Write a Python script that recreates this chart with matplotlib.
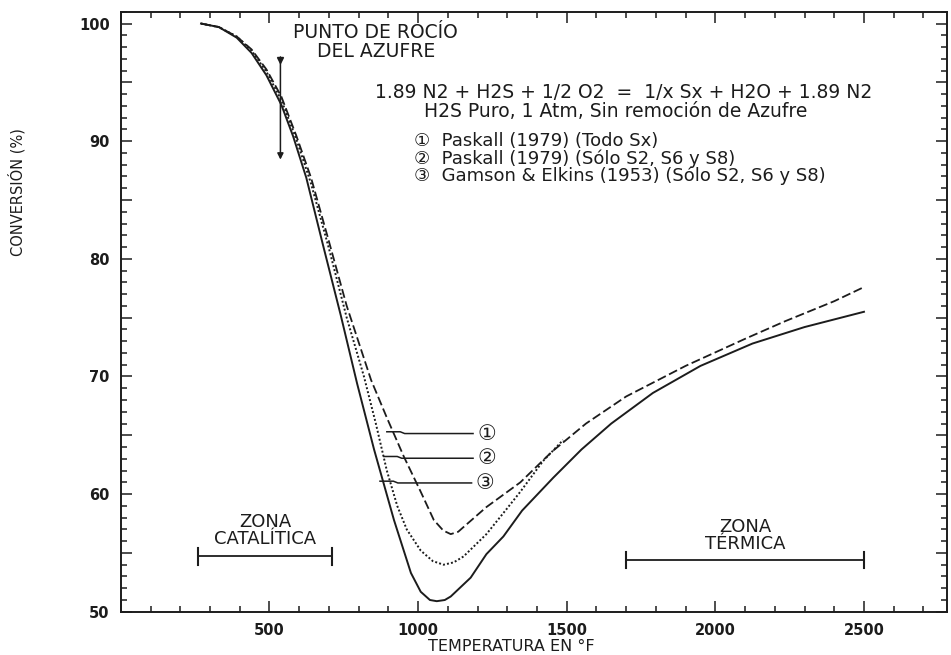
import matplotlib
matplotlib.use("Agg")
import matplotlib.pyplot as plt
from matplotlib.ticker import MultipleLocator, FuncFormatter

plt.rcParams['font.family'] = ['DejaVu Sans', 'Noto Sans CJK JP']

# ---------------------------------------------------------------------------
# datos (Temperatura en F, conversion en %)
# ---------------------------------------------------------------------------
# (1) Paskall (1979) (Todo Sx) - linea de trazos
t_1 = [270, 330, 390, 440, 490, 540, 590, 640, 700, 760, 842, 895, 952, 1009,
       1053, 1085, 1110, 1135, 1153, 1230, 1344, 1450, 1565, 1700, 1900, 2100,
       2235, 2400, 2500]
conv_1 = [100, 99.7, 98.9, 97.8, 96.1, 93.8, 90.5, 86.9, 81.5, 76.0, 69.7, 66.5,
          63.2, 60.2, 57.8, 56.9, 56.6, 56.8, 57.2, 58.9, 61.0, 63.6, 66.0, 68.3,
          70.9, 73.2, 74.7, 76.4, 77.6]

# (2) Paskall (1979) (Solo S2, S6 y S8) - linea punteada
t_2 = [270, 330, 390, 440, 490, 540, 590, 640, 700, 760, 818, 858, 895, 930,
       962, 1009, 1050, 1086, 1120, 1153, 1230, 1300, 1344, 1420, 1488]
conv_2 = [100, 99.7, 98.9, 97.7, 95.9, 93.5, 90.2, 86.4, 80.9, 75.0, 70.0, 66.0,
          62.0, 59.0, 57.0, 55.2, 54.3, 54.0, 54.2, 54.7, 56.6, 58.8, 60.2, 62.8,
          64.6]

# (3) Gamson & Elkins (1953) (Solo S2, S6 y S8) - linea continua
t_3 = [270, 330, 390, 440, 490, 540, 580, 624, 680, 740, 795, 852, 919, 976,
       1009, 1040, 1063, 1090, 1110, 1177, 1230, 1287, 1350, 1455, 1550, 1650,
       1790, 1950, 2125, 2300, 2500]
conv_3 = [100, 99.7, 98.8, 97.5, 95.6, 93.1, 90.4, 86.9, 81.2, 75.2, 69.4, 63.8,
          57.8, 53.3, 51.7, 51.0, 50.9, 51.0, 51.3, 52.9, 54.9, 56.4, 58.6, 61.4,
          63.8, 66.0, 68.6, 70.9, 72.8, 74.2, 75.5]

x_ticks = [500, 1000, 1500, 2000, 2500]
y_ticks = [50, 60, 70, 80, 90, 100]

# etiquetas de las curvas: (x en la curva, y, x del circulo, texto)
etiquetas = [(895, 65.3, 1230, '①'),
             (885, 63.2, 1230, '②'),
             (872, 61.1, 1225, '③')]

leyenda = ['①  Paskall (1979) (Todo Sx)',
           '②  Paskall (1979) (Sólo S2, S6 y S8)',
           '③  Gamson & Elkins (1953) (Sólo S2, S6 y S8)']

zona_catalitica = (260, 710)
zona_termica = (1700, 2500)
punto_rocio = 537

ink = '#1c1c1c'

fig = plt.figure(figsize=(9.51, 6.55), dpi=100)
ax = fig.add_axes([0.127, 0.066, 0.869, 0.916])

ax.plot(t_3, conv_3, '-', color=ink, lw=1.4)
ax.plot(t_2, conv_2, color=ink, lw=1.4, linestyle=(0, (1, 1.1)))
ax.plot(t_1, conv_1, color=ink, lw=1.3, linestyle=(0, (5, 2)))

ax.set_xlim(0, 2780)
ax.set_ylim(50, 101)

# ejes y marcas
ax.xaxis.set_major_locator(MultipleLocator(500))
ax.xaxis.set_minor_locator(MultipleLocator(100))
ax.yaxis.set_major_locator(MultipleLocator(5))
ax.yaxis.set_minor_locator(MultipleLocator(1))
ax.xaxis.set_major_formatter(FuncFormatter(lambda v, p: f'{int(v)}' if v in x_ticks else ''))
ax.yaxis.set_major_formatter(FuncFormatter(lambda v, p: f'{int(v)}' if v in y_ticks else ''))
ax.tick_params(which='both', direction='in', top=True, right=True, color=ink, width=1.1)
ax.tick_params(which='major', length=8)
ax.tick_params(which='minor', length=4)
ax.tick_params(axis='both', labelsize=10.5, labelcolor=ink, pad=8)
for lab in ax.get_xticklabels() + ax.get_yticklabels():
    lab.set_fontweight('bold')
for s in ax.spines.values():
    s.set_linewidth(1.4)
    s.set_color(ink)

ax.set_xlabel('TEMPERATURA EN °F', fontsize=11.5, color=ink)
ax.xaxis.set_label_coords(0.473, -0.045)
ax.set_ylabel('CONVERSIÓN (%)', fontsize=10.5, color=ink)
ax.yaxis.set_label_coords(-0.115, 0.70)

# punto de rocio del azufre
ax.text(858, 99.2, 'PUNTO DE ROCÍO', ha='center', va='center', fontsize=13.5, color=ink)
ax.text(858, 97.6, 'DEL AZUFRE', ha='center', va='center', fontsize=13.5, color=ink)
ax.annotate('', xy=(punto_rocio, 88.2), xytext=(punto_rocio, 97.4),
            arrowprops=dict(arrowstyle='-|>', color=ink, lw=1.1, mutation_scale=9))
ax.plot([punto_rocio], [96.9], marker='v', color=ink, ms=4)

# ecuacion y leyenda
ax.text(1690, 94.1, '1.89 N2 + H2S + 1/2 O2  =  1/x Sx + H2O + 1.89 N2',
        ha='center', va='center', fontsize=13.5, color=ink)
ax.text(1665, 92.5, 'H2S Puro, 1 Atm, Sin remoción de Azufre',
        ha='center', va='center', fontsize=13.5, color=ink)
for i, txt in enumerate(leyenda):
    ax.text(985, 90.0 - 1.45 * i, txt, ha='left', va='center', fontsize=13, color=ink)

# lineas de llamada a las curvas
for x0, y0, xc, num in etiquetas:
    ax.plot([x0, x0 + 45, x0 + 60, xc - 45], [y0, y0, y0 - 0.15, y0 - 0.15],
            color=ink, lw=1.1)
    ax.text(xc, y0 - 0.15, num, ha='center', va='center', fontsize=15, color=ink)

# zonas
for (a, b), txt, ytxt, ybar in [(zona_catalitica, 'ZONA\nCATALÍTICA', 56.9, 54.7),
                                (zona_termica, 'ZONA\nTÉRMICA', 56.5, 54.4)]:
    ax.plot([a, b], [ybar, ybar], color=ink, lw=1.3)
    ax.plot([a, a], [ybar - 0.7, ybar + 0.7], color=ink, lw=1.5)
    ax.plot([b, b], [ybar - 0.7, ybar + 0.7], color=ink, lw=1.5)
    ax.text((a + b) / 2, ytxt, txt, ha='center', va='center', fontsize=13,
            color=ink, linespacing=0.9)

fig.savefig('out.png', dpi=100)
